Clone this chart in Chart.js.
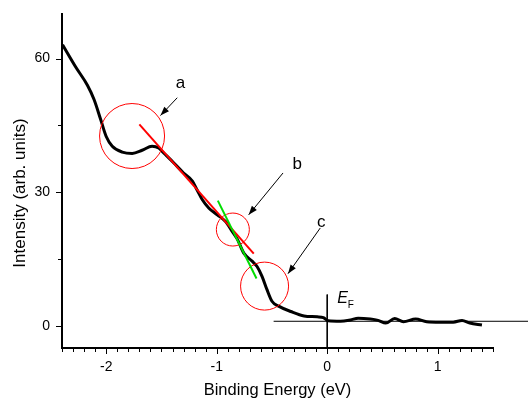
<!DOCTYPE html>
<html>
<head>
<meta charset="utf-8">
<script src="https://cdn.jsdelivr.net/npm/chart.js@4.4.1/dist/chart.umd.min.js"></script>
<style>
  html, body { margin: 0; padding: 0; background: #fff; }
  #wrap { width: 528px; height: 401px; }
</style>
</head>
<body>
<div id="wrap"><canvas id="c" width="528" height="401"></canvas></div>
<script>
// ---- data ----
const bindingEnergy = [-2.395, -2.276, -2.17, -2.11, -2.05, -2.0, -1.945, -1.855, -1.765, -1.675,
  -1.585, -1.525, -1.48, -1.39, -1.30, -1.22, -1.18, -1.13, -1.07, -0.995,
  -0.92, -0.86, -0.815, -0.755, -0.68, -0.635, -0.59, -0.545, -0.50, -0.44,
  -0.33, -0.21, -0.09, -0.035, 0.01, 0.12, 0.21, 0.28, 0.39, 0.46,
  0.53, 0.61, 0.69, 0.80, 0.90, 1.02, 1.14, 1.22, 1.29, 1.40];
const intensity = [63.1, 58.1, 54.0, 50.8, 46.3, 42.5, 40.3, 39.0, 38.7, 39.4,
  40.3, 39.9, 38.8, 36.6, 34.3, 32.5, 30.6, 28.3, 26.4, 24.9,
  23.4, 21.2, 19.5, 16.3, 14.5, 13.3, 11.1, 8.1, 5.5, 4.4,
  3.2, 2.2, 2.0, 1.8, 1.1, 1.0, 1.3, 1.7, 1.5, 1.2,
  0.6, 1.6, 0.9, 1.5, 0.9, 0.8, 0.8, 1.2, 0.6, 0.15];

// tangent lines
const redTangentX = [-1.70, -0.665];
const redTangentY = [45.2, 16.2];
const greenTangentX = [-0.99, -0.64];
const greenTangentY = [28.1, 10.6];

// circles (centres)
const circleX = [-1.766, -0.854, -0.567];
const circleY = [42.6, 21.6, 8.9];

// baseline and Fermi level marker
const baselineX = [-0.485, 1.82];
const baselineY = [1.0, 1.0];
const fermiX = [0, 0];
const fermiY = [7, -5];

// annotation labels and arrows
const noteLabels = ['a', 'b', 'c'];
const noteLabelX = [-1.328, -0.271, -0.054];
const noteLabelY = [53.3, 35.1, 22.2];
const arrowFromX = [-1.357, -0.40, -0.063];
const arrowFromY = [51.2, 34.3, 21.95];
const arrowToX = [-1.509, -0.711, -0.355];
const arrowToY = [47.2, 24.9, 11.7];
const fermiLabel = 'E';
const fermiSub = 'F';
const fermiLabelX = 0.09;
const fermiLabelY = 5.2;

// axes
const xMin = -2.4, xMax = 1.5, yMin = -5, yMax = 70;
const xMajorTicks = [-2, -1, 0, 1];
const xTickLabels = ['-2', '-1', '0', '1'];
const xMinorTicks = [];
for (let i = -24; i <= 15; i++) xMinorTicks.push(i / 10);
const yMajorTicks = [0, 30, 60];
const yTickLabels = ['0', '30', '60'];
const yMinorTicks = [15, 45];
const xTitle = 'Binding Energy (eV)';
const yTitle = 'Intensity (arb. units)';

// ---- build ----
const zip = (xs, ys) => xs.map((x, i) => ({ x: x, y: ys[i] }));
const FONT = '"Liberation Sans", Arial, sans-serif';

const arrowDatasets = noteLabels.map((_, i) => ({
  data: [{ x: arrowFromX[i], y: arrowFromY[i] }, { x: arrowToX[i], y: arrowToY[i] }],
  showLine: true, borderColor: '#000', borderWidth: 1, pointRadius: 0, isArrow: true
}));

const annotationPlugin = {
  id: 'annot',
  afterDatasetsDraw(chart) {
    const ctx = chart.ctx;
    chart.data.datasets.forEach((ds, di) => {
      if (!ds.isArrow) return;
      const meta = chart.getDatasetMeta(di);
      const p0 = meta.data[0], p1 = meta.data[1];
      const ang = Math.atan2(p1.y - p0.y, p1.x - p0.x);
      const L = 9, W = 3.2;
      ctx.save();
      ctx.fillStyle = '#000';
      ctx.beginPath();
      ctx.moveTo(p1.x, p1.y);
      ctx.lineTo(p1.x - L * Math.cos(ang) + W * Math.sin(ang), p1.y - L * Math.sin(ang) - W * Math.cos(ang));
      ctx.lineTo(p1.x - L * Math.cos(ang) - W * Math.sin(ang), p1.y - L * Math.sin(ang) + W * Math.cos(ang));
      ctx.closePath();
      ctx.fill();
      ctx.restore();
    });
  },
  afterDraw(chart) {
    const ctx = chart.ctx;
    const xs = chart.scales.x, ys = chart.scales.y;
    const area = chart.chartArea;
    ctx.save();
    ctx.strokeStyle = '#000';
    ctx.lineWidth = 1;
    xMinorTicks.forEach(v => {
      const major = xMajorTicks.some(m => Math.abs(m - v) < 1e-6);
      const px = Math.round(xs.getPixelForValue(v)) + 0.5;
      ctx.beginPath();
      ctx.moveTo(px, area.bottom);
      ctx.lineTo(px, area.bottom + (major ? 6 : 4));
      ctx.stroke();
    });
    yMajorTicks.concat(yMinorTicks).forEach(v => {
      const major = yMajorTicks.includes(v);
      const py = Math.round(ys.getPixelForValue(v)) + 0.5;
      ctx.beginPath();
      ctx.moveTo(area.left, py);
      ctx.lineTo(area.left - (major ? 6 : 4), py);
      ctx.stroke();
    });
    ctx.fillStyle = '#000';
    // y-axis title (rotated), placed a little below the plot centre as in the reference
    ctx.save();
    ctx.font = '17px ' + FONT;
    ctx.textAlign = 'center';
    ctx.textBaseline = 'alphabetic';
    ctx.translate(24.5, (area.top + area.bottom) / 2 + 12);
    ctx.rotate(-Math.PI / 2);
    ctx.fillText(yTitle, 0, 0);
    ctx.restore();
    // a, b, c
    ctx.font = '17px ' + FONT;
    ctx.textAlign = 'center';
    ctx.textBaseline = 'alphabetic';
    noteLabels.forEach((t, i) => {
      ctx.fillText(t, xs.getPixelForValue(noteLabelX[i]), ys.getPixelForValue(noteLabelY[i]));
    });
    // E_F
    ctx.textAlign = 'left';
    ctx.font = 'italic 16px ' + FONT;
    const ex = xs.getPixelForValue(fermiLabelX), ey = ys.getPixelForValue(fermiLabelY);
    ctx.fillText(fermiLabel, ex, ey);
    const ew = ctx.measureText(fermiLabel).width;
    ctx.font = '10px ' + FONT;
    ctx.fillText(fermiSub, ex + ew, ey + 5);
    ctx.restore();
  }
};

new Chart(document.getElementById('c'), {
  type: 'scatter',
  data: {
    datasets: [
      { data: zip(greenTangentX, greenTangentY), showLine: true, borderColor: '#00dd00', borderWidth: 2, pointRadius: 0 },
      { data: zip(redTangentX, redTangentY), showLine: true, borderColor: '#ff0000', borderWidth: 2, pointRadius: 0 },
      { data: zip(circleX, circleY), showLine: false, pointRadius: [32.5, 16.5, 24], pointBorderColor: '#ff0000',
        pointBackgroundColor: 'rgba(0,0,0,0)', pointBorderWidth: 1, clip: false },
      { data: zip(bindingEnergy, intensity), showLine: true, borderColor: '#000', borderWidth: 3, pointRadius: 0,
        cubicInterpolationMode: 'monotone' },
      { data: zip(baselineX, baselineY), showLine: true, borderColor: '#000', borderWidth: 1, pointRadius: 0, clip: false },
      { data: zip(fermiX, fermiY), showLine: true, borderColor: '#000', borderWidth: 1, pointRadius: 0 },
      ...arrowDatasets
    ]
  },
  options: {
    responsive: false,
    animation: false,
    events: [],
    layout: { autoPadding: false, padding: { top: 14, right: 35, left: 0, bottom: 0 } },
    plugins: { legend: { display: false }, tooltip: { enabled: false } },
    scales: {
      x: {
        type: 'linear', min: xMin, max: xMax,
        afterFit: s => { s.height = 53; s.paddingLeft = 0; s.paddingRight = 0; },
        afterBuildTicks: s => { s.ticks = xMajorTicks.map(v => ({ value: v })); },
        grid: { display: true, drawOnChartArea: false, drawTicks: true, tickLength: 5, tickColor: 'rgba(0,0,0,0)' },
        border: { display: true, color: '#000', width: 2 },
        ticks: {
          autoSkip: false, maxRotation: 0, padding: 6, color: '#000',
          font: { family: FONT, size: 14 },
          callback: v => { const i = xMajorTicks.indexOf(v); return i >= 0 ? xTickLabels[i] : ''; }
        },
        title: { display: true, text: xTitle, color: '#000', font: { family: FONT, size: 16.5 }, padding: { top: 0, bottom: 1 } }
      },
      y: {
        type: 'linear', min: yMin, max: yMax,
        afterFit: s => { s.width = 62; s.paddingTop = 0; s.paddingBottom = 0; },
        afterBuildTicks: s => { s.ticks = yMajorTicks.map(v => ({ value: v })); },
        grid: { display: true, drawOnChartArea: false, drawTicks: true, tickLength: 5, tickColor: 'rgba(0,0,0,0)' },
        border: { display: true, color: '#000', width: 2 },
        ticks: {
          autoSkip: false, padding: 7, color: '#000',
          font: { family: FONT, size: 14 },
          callback: v => { const i = yMajorTicks.indexOf(v); return i >= 0 ? yTickLabels[i] : ''; }
        },
        title: { display: false }
      }
    }
  },
  plugins: [annotationPlugin]
});
</script>
</body>
</html>
